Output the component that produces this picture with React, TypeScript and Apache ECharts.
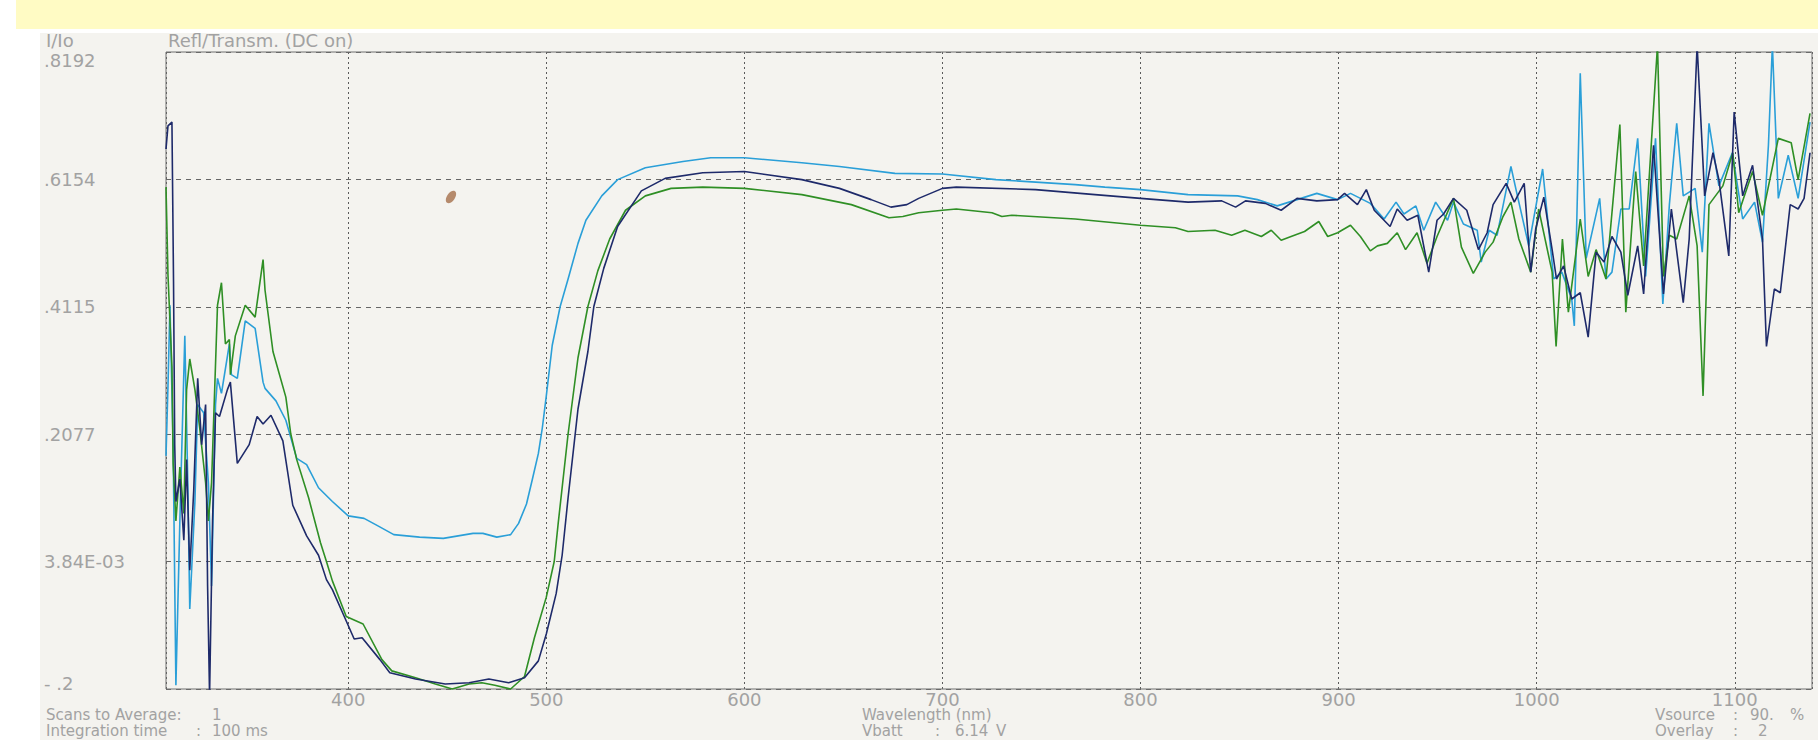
import React, { useEffect, useRef } from "react";
import * as echarts from "echarts";

// Spectrometer reflectance / transmittance curves, wavelength (nm) -> I/Io
const X_MIN = 308;
const X_MAX = 1139;
const Y_MIN = -0.2;
const Y_MAX = 0.8192;
const Y_STEP = 0.20384;
const yTickLabels = ["- .2", "3.84E-03", ".2077", ".4115", ".6154", ".8192"];

const lightBlue: [number, number][] = [
  [308, 0.173], [309, 0.285], [310, 0.414], [311.6, 0.191], [313, -0.194], [315, 0.069],
  [317.5, 0.365], [319, 0.13], [320, -0.072], [322.6, 0.1], [324, 0.255], [327, 0.242],
  [329.4, 0.13], [331, -0.035], [333, 0.255], [334, 0.297], [336, 0.273], [340, 0.352],
  [341, 0.303], [344, 0.297], [348, 0.389], [353, 0.377], [357, 0.291], [358, 0.281],
  [363.5, 0.261], [368.5, 0.23], [374, 0.169], [379, 0.159], [385, 0.122], [392, 0.1],
  [400, 0.077], [408, 0.073], [415, 0.061], [423, 0.047], [436, 0.043], [448, 0.041],
  [463, 0.049], [468, 0.049], [475, 0.043], [482, 0.047], [486, 0.065], [490, 0.096],
  [493, 0.136], [496, 0.177], [498, 0.218], [500, 0.269], [503, 0.35], [507, 0.412],
  [511, 0.456], [516, 0.513], [520, 0.55], [528, 0.589], [536, 0.615], [550, 0.634],
  [569, 0.644], [583, 0.65], [600, 0.65], [629, 0.642], [648, 0.636], [676, 0.625],
  [700, 0.624], [727, 0.615], [767, 0.607], [782, 0.603], [800, 0.599], [824, 0.591],
  [849, 0.589], [859, 0.583], [869, 0.573], [879, 0.583], [889, 0.593], [899.5, 0.583],
  [906, 0.593], [911, 0.585], [916, 0.577], [923, 0.552], [929, 0.579], [933, 0.56],
  [939, 0.573], [943, 0.534], [949, 0.579], [955, 0.55], [958, 0.579], [963, 0.544],
  [970, 0.534], [972, 0.483], [976, 0.534], [980, 0.526], [983, 0.573], [987, 0.636],
  [990, 0.593], [996, 0.509], [1003, 0.632], [1008.6, 0.456], [1012.7, 0.467],
  [1017.7, 0.424], [1019, 0.381], [1022, 0.785], [1025, 0.489], [1031.8, 0.585],
  [1035, 0.456], [1038, 0.467], [1042.5, 0.568], [1046.7, 0.568], [1051, 0.681],
  [1055, 0.46], [1060, 0.681], [1063.7, 0.416], [1067, 0.575], [1070.7, 0.705],
  [1074, 0.589], [1080, 0.601], [1083.6, 0.499], [1087, 0.705], [1092, 0.605],
  [1098.8, 0.658], [1104, 0.552], [1110, 0.579], [1114, 0.515], [1117, 0.67],
  [1119, 0.83], [1122, 0.585], [1127, 0.654], [1132, 0.585], [1138, 0.707],
];

const navy: [number, number][] = [
  [308, 0.664], [309, 0.701], [311, 0.707], [311.8, 0.452], [312.4, 0.191], [313, 0.1],
  [315, 0.136], [317, 0.038], [318.4, 0.167], [320, -0.01], [322, 0.118], [324, 0.297],
  [326, 0.191], [328, 0.255], [329, -0.035], [330, -0.21], [331.5, 0.069], [333, 0.242],
  [335, 0.236], [339, 0.279], [340.5, 0.291], [344, 0.161], [350, 0.191], [354, 0.236],
  [357, 0.224], [361, 0.238], [367, 0.197], [372, 0.094], [379, 0.045], [385, 0.014],
  [389, -0.025], [392, -0.041], [398, -0.084], [403, -0.12], [407, -0.118], [416, -0.153],
  [421, -0.174], [434, -0.184], [449, -0.192], [461, -0.19], [471, -0.184], [481, -0.19],
  [489, -0.182], [496, -0.155], [500, -0.112], [505, -0.047], [508, 0.014], [511, 0.106],
  [516, 0.248], [521, 0.34], [524, 0.412], [529, 0.473], [536, 0.54], [548, 0.597],
  [560, 0.617], [579, 0.626], [600, 0.628], [629, 0.615], [648, 0.601], [664, 0.583],
  [674, 0.571], [682, 0.575], [688, 0.585], [700, 0.601], [707, 0.603], [747, 0.599],
  [777, 0.591], [800, 0.585], [824, 0.579], [841, 0.581], [848, 0.571], [853, 0.581],
  [863, 0.577], [871, 0.566], [879, 0.585], [889, 0.581], [899.5, 0.583], [903, 0.593],
  [909.5, 0.575], [914, 0.599], [918, 0.566], [926, 0.54], [929.6, 0.568], [934.6, 0.55],
  [940, 0.558], [945.5, 0.467], [949.7, 0.55], [953, 0.56], [958, 0.585], [964.7, 0.566],
  [970.6, 0.503], [975, 0.53], [978, 0.575], [984.6, 0.609], [988.7, 0.579],
  [993.7, 0.609], [997, 0.467], [999.5, 0.536], [1003.6, 0.587], [1007.8, 0.503],
  [1010, 0.456], [1013.6, 0.477], [1017.7, 0.424], [1022, 0.434], [1026, 0.363],
  [1030, 0.499], [1034, 0.483], [1038, 0.524], [1042.5, 0.499], [1046, 0.43],
  [1051, 0.509], [1054, 0.432], [1059, 0.67], [1064, 0.432], [1068, 0.568], [1074, 0.418],
  [1077, 0.52], [1081, 0.83], [1084.8, 0.589], [1089, 0.658], [1092, 0.615], [1097, 0.493],
  [1099.7, 0.723], [1104, 0.589], [1109, 0.638], [1114, 0.52], [1116, 0.348], [1120, 0.44],
  [1123, 0.434], [1128, 0.575], [1132, 0.568], [1135, 0.585], [1138, 0.658],
];

const green: [number, number][] = [
  [308, 0.603], [309, 0.462], [311, 0.316], [311.6, 0.161], [313, 0.069], [315, 0.155],
  [317, 0.081], [318.4, 0.279], [320, 0.328], [322.6, 0.279], [325, 0.218], [328, 0.13],
  [329.4, 0.069], [331, 0.13], [334, 0.414], [336, 0.45], [338, 0.352], [340, 0.359],
  [340.5, 0.303], [343, 0.365], [348, 0.414], [353, 0.395], [357, 0.487], [358, 0.438],
  [362, 0.34], [368.5, 0.267], [371, 0.208], [374, 0.167], [380, 0.106], [386, 0.034],
  [389, 0.004], [392, -0.027], [399, -0.084], [407.5, -0.096], [417, -0.153], [422, -0.171],
  [434, -0.182], [444, -0.192], [452.5, -0.2], [461, -0.192], [467.5, -0.19], [474, -0.194],
  [482, -0.2], [489, -0.18], [494, -0.118], [500, -0.053], [504, 0.004], [506, 0.065],
  [511, 0.208], [516, 0.33], [521, 0.412], [526, 0.469], [532, 0.52], [540, 0.566],
  [550, 0.589], [563, 0.601], [579, 0.603], [600, 0.601], [629, 0.591], [654, 0.575],
  [673, 0.554], [680, 0.556], [688, 0.562], [700, 0.566], [707, 0.568], [725, 0.562],
  [730, 0.556], [735, 0.558], [767, 0.552], [800, 0.542], [817.6, 0.538], [824, 0.532],
  [837.6, 0.534], [846, 0.526], [852.7, 0.534], [861, 0.524], [866, 0.534], [871, 0.518],
  [876, 0.524], [882.8, 0.532], [890, 0.548], [894.5, 0.524], [899.5, 0.53], [906, 0.542],
  [911, 0.524], [916, 0.501], [919.6, 0.509], [924.6, 0.513], [929.6, 0.53], [933.8, 0.503],
  [939.6, 0.53], [944.6, 0.481], [949.7, 0.524], [958, 0.585], [962, 0.507], [968, 0.465],
  [974, 0.499], [978, 0.515], [983, 0.556], [987, 0.579], [991, 0.52], [997, 0.467],
  [1001, 0.568], [1007.8, 0.467], [1009.8, 0.348], [1013, 0.52], [1016, 0.403],
  [1022, 0.552], [1026, 0.46], [1030, 0.503], [1035, 0.456], [1042, 0.703], [1045, 0.403],
  [1050, 0.628], [1054, 0.477], [1061, 0.83], [1064, 0.46], [1067, 0.526], [1070.7, 0.52],
  [1077, 0.589], [1081, 0.509], [1084, 0.269], [1087, 0.575], [1094, 0.605], [1099, 0.658],
  [1102, 0.562], [1109, 0.628], [1114, 0.558], [1122, 0.681], [1128.5, 0.674],
  [1132, 0.615], [1138, 0.721],
];

const FONT = "'DejaVu Sans', 'Liberation Sans', Arial, sans-serif";
const TXT = "#a2a2a2";

function label(text: string, x: number, y: number, size = 18) {
  return {
    type: "text",
    x,
    y,
    z: 5,
    silent: true,
    style: { text, fill: TXT, font: `${size}px ${FONT}`, textVerticalAlign: "middle", textAlign: "left" },
  };
}

export default function App() {
  const ref = useRef<HTMLDivElement>(null);

  useEffect(() => {
    document.body.style.margin = "0";
    const chart = echarts.init(ref.current!, null, { renderer: "svg" });
    const S = 15;
    chart.setOption({
      animation: false,
      backgroundColor: "#ffffff",
      grid: {
        left: 166,
        right: 6,
        top: 52,
        bottom: 51,
        show: true,
        borderColor: "#6f6f6f",
        borderWidth: 1,
        backgroundColor: "transparent",
        z: 1,
      },
      graphic: {
        elements: [
          { type: "rect", z: -10, silent: true, shape: { x: 16, y: 0, width: 1802, height: 29 }, style: { fill: "#fffbc4" } },
          { type: "rect", z: -10, silent: true, shape: { x: 40, y: 33, width: 1778, height: 707 }, style: { fill: "#f4f3ef" } },
          { type: "ellipse", z: -5, silent: true, x: 451, y: 197, rotation: -0.6, shape: { cx: 0, cy: 0, rx: 4, ry: 7 }, style: { fill: "#b58a6c" } },
          label("I/Io", 46, 40),
          label("Refl/Transm. (DC on)", 168, 40),
          label("Scans to Average:", 46, 715, S),
          label("1", 212, 715, S),
          label("Integration time", 46, 731, S),
          label(":", 196, 731, S),
          label("100 ms", 212, 731, S),
          label("Wavelength (nm)", 862, 715, S),
          label("Vbatt", 862, 731, S),
          label(":", 935, 731, S),
          label("6.14", 955, 731, S),
          label("V", 996, 731, S),
          label("Vsource", 1655, 715, S),
          label(":", 1733, 715, S),
          label("90.", 1750, 715, S),
          label("%", 1790, 715, S),
          label("Overlay", 1655, 731, S),
          label(":", 1733, 731, S),
          label("2", 1758, 731, S),
        ],
      },
      xAxis: {
        type: "value",
        min: X_MIN,
        max: X_MAX,
        splitNumber: 8,
        minInterval: 100,
        maxInterval: 100,
        axisLine: { show: false },
        axisTick: { show: false },
        axisLabel: {
          showMinLabel: false,
          showMaxLabel: false,
          margin: 1,
          color: TXT,
          fontFamily: FONT,
          fontSize: 18,
          verticalAlign: "top",
          formatter: (v: number) => String(Math.round(v)),
        },
        splitLine: { show: true, lineStyle: { color: "#5a5a5a", width: 1, type: [2, 3] } },
      },
      yAxis: {
        type: "value",
        min: Y_MIN,
        max: Y_MAX,
        interval: Y_STEP,
        axisLine: { show: false },
        axisTick: { show: false },
        axisLabel: {
          margin: 122,
          align: "left",
          color: TXT,
          fontFamily: FONT,
          fontSize: 18,
          formatter: (v: number) => {
            const i = Math.round((v - Y_MIN) / Y_STEP);
            const t = yTickLabels[i] ?? "";
            if (i === 5) return `{t|${t}}`;
            if (i === 0) return `{b|${t}}`;
            return t;
          },
          rich: {
            t: { padding: [16, 0, 0, 0], color: TXT, fontFamily: FONT, fontSize: 18 },
            b: { padding: [0, 0, 12, 0], color: TXT, fontFamily: FONT, fontSize: 18 },
          },
        },
        splitLine: { show: true, lineStyle: { color: "#666666", width: 1, type: [5, 5] } },
      },
      series: [
        { name: "Light blue", type: "line", data: lightBlue, showSymbol: false, clip: true, lineStyle: { color: "#2a9fd8", width: 1.6 }, itemStyle: { color: "#2a9fd8" } },
        { name: "Green", type: "line", data: green, showSymbol: false, clip: true, lineStyle: { color: "#2f8f25", width: 1.6 }, itemStyle: { color: "#2f8f25" } },
        { name: "Navy", type: "line", data: navy, showSymbol: false, clip: true, lineStyle: { color: "#1e2a6a", width: 1.6 }, itemStyle: { color: "#1e2a6a" } },
      ],
    });
    return () => chart.dispose();
  }, []);

  return (
    <div
      ref={ref}
      style={{ position: "fixed", left: 0, top: 0, width: 1818, height: 740 }}
    />
  );
}
